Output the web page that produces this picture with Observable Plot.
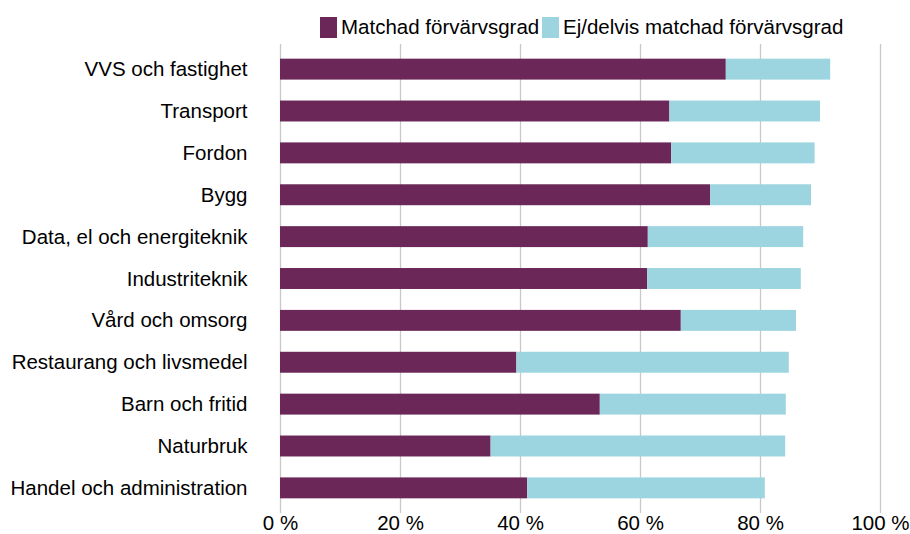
<!DOCTYPE html>
<html>
<head>
<meta charset="utf-8">
<script src="https://cdn.jsdelivr.net/npm/d3@7"></script>
<script src="https://cdn.jsdelivr.net/npm/@observablehq/plot@0.6"></script>
<style>
  html, body { margin: 0; padding: 0; background: #fff; }
  body { width: 910px; height: 534px; overflow: hidden; font-family: "Liberation Sans", Arial, sans-serif; }
  #legend { height: 40px; position: relative; font-size: 20.5px; color: #000; }
  .item { position: absolute; top: 15px; display: flex; align-items: center; }
  .sw { width: 17px; height: 21px; margin-right: 4px; }
  svg { display: block; }
</style>
</head>
<body>
<div id="legend"></div>
<div id="chart"></div>
<script>
const categories = [
  "VVS och fastighet",
  "Transport",
  "Fordon",
  "Bygg",
  "Data, el och energiteknik",
  "Industriteknik",
  "Vård och omsorg",
  "Restaurang och livsmedel",
  "Barn och fritid",
  "Naturbruk",
  "Handel och administration"
];
const seriesNames = ["Matchad förvärvsgrad", "Ej/delvis matchad förvärvsgrad"];
const matched   = [74.3, 64.9, 65.2, 71.7, 61.3, 61.2, 66.8, 39.4, 53.3, 35.1, 41.2];
const unmatched = [17.4, 25.1, 23.9, 16.8, 25.9, 25.6, 19.2, 45.4, 31.0, 49.1, 39.6];
const xTicks = [0, 20, 40, 60, 80, 100];
const colors = ["#6a2758", "#9cd4df"];

const data = [];
categories.forEach((c, i) => {
  data.push({category: c, series: seriesNames[0], value: matched[i]});
  data.push({category: c, series: seriesNames[1], value: unmatched[i]});
});

// legend
const legend = document.getElementById("legend");
const lefts = [320, 542];
seriesNames.forEach((s, i) => {
  const it = document.createElement("div");
  it.className = "item";
  it.style.left = lefts[i] + "px";
  it.innerHTML = `<div class="sw" style="background:${colors[i]}"></div><span>${s}</span>`;
  legend.appendChild(it);
});

const chart = Plot.plot({
  width: 910,
  height: 494,
  marginTop: 4,
  marginBottom: 21,
  marginLeft: 280,
  marginRight: 30,
  style: {fontFamily: "'Liberation Sans', Arial, sans-serif", fontSize: "20.5px", color: "#000", background: "#fff"},
  x: {domain: [0, 100], ticks: xTicks, tickFormat: d => d + "\u00a0%", label: null},
  y: {domain: categories, paddingInner: 0.5, paddingOuter: 0.35, round: false, label: null},
  color: {domain: seriesNames, range: colors},
  marks: [
    Plot.gridX(xTicks, {stroke: "#c8c8c8", strokeOpacity: 1, strokeWidth: 1.3}),
    Plot.barX(data, Plot.stackX({x: "value", y: "category", fill: "series", order: seriesNames})),
    Plot.axisX({ticks: xTicks, tickSize: 0, tickPadding: 2, tickFormat: d => d + "\u00a0%", label: null, fontSize: 20.5}),
    Plot.axisY({tickSize: 0, tickPadding: 33, label: null, fontSize: 20.5})
  ]
});
document.getElementById("chart").appendChild(chart);
</script>
</body>
</html>
